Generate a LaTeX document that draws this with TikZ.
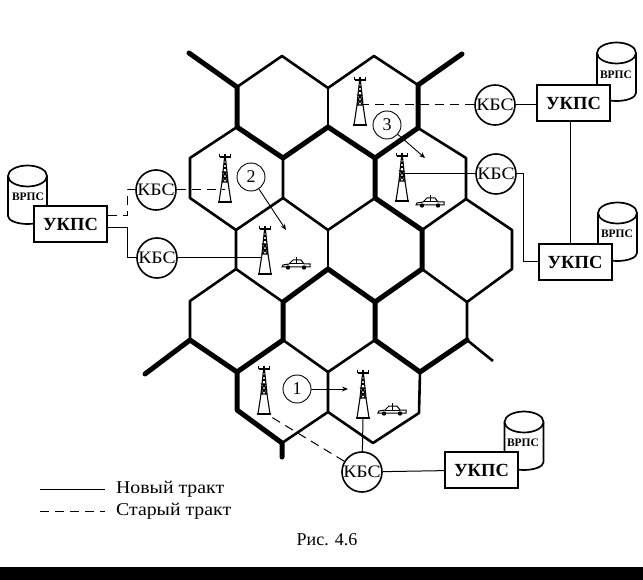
\documentclass[tikz,border=0pt]{standalone}
\usepackage{fontspec}
\setmainfont{Liberation Serif}
\newfontfamily\kbsfont[FakeStretch=1.12]{Liberation Serif}
\newfontfamily\legendfont[FakeStretch=1.1]{Liberation Serif}
\usetikzlibrary{arrows.meta}
\tikzset{
  cellwall/.style={line width=2.6pt,line join=round},
  clusterwall/.style={line width=5pt,line join=round,line cap=round},
  newpath/.style={line width=1pt},
  oldpath/.style={line width=1pt,dash pattern=on 9pt off 6pt},
  kbs/.style={circle,draw,line width=1.6pt,fill=white,minimum size=40pt,inner sep=0pt,font=\kbsfont\fontsize{17.5}{18}\selectfont},
  ukps/.style={rectangle,draw,line width=2pt,fill=white,minimum width=73pt,minimum height=36pt,inner sep=0pt,font=\bfseries\fontsize{18.5}{20}\selectfont},
  stage/.style={circle,draw,line width=0.9pt,fill=white,minimum size=28pt,inner sep=0pt,font=\fontsize{18}{18}\selectfont},
  legendtext/.style={anchor=west,inner sep=0pt,font=\legendfont\fontsize{18}{18}\selectfont},
  tower/.pic={
    \draw[line width=1.8pt] (-7,0)--(7,0);
    \draw[line width=1.1pt] (-6,0)--(-3,-20)--(-2,-30)--(-0.5,-44);
    \draw[line width=1.1pt] (6,0)--(3,-20)--(2,-30)--(0.5,-44);
    \draw[line width=1.1pt] (-3,-20)--(3,-20) (-3,-20)--(2,-26)--(-2,-30)--(2,-30) (3,-20)--(-2,-26)--(2,-30) (-3,-24)--(3,-24);
    \draw[line width=1.1pt] (-1,-34)--(1,-34) (-1,-38)--(1,-38);
    \draw[line width=1.1pt] (-5.5,-45)--(5.5,-45) (-5.5,-48)--(-5.5,-45) (0,-48)--(0,-44) (5.5,-48)--(5.5,-45);
  },
  car/.pic={
    \draw[line width=1pt,fill=white] (-14,3)--(-13,1)--(-7,0)--(-3,-4)--(5,-4)--(8,0)--(14,0)--(14,3)--cycle;
    \draw[line width=1pt] (0,-7)--(0,0) (-7,0)--(8,0);
    \fill (-8,3.5) circle (2.2pt) (8,3.5) circle (2.2pt);
  },
  vrps/.pic={
    \draw[line width=1.7pt,fill=white] (-19.5,0)--(-19.5,40) arc[start angle=180,end angle=360,x radius=19.5,y radius=-8]--(19.5,0);
    \draw[line width=1.7pt,fill=white] (0,0) ellipse[x radius=19.5,y radius=10.5];
  }
}
\begin{document}
\begin{tikzpicture}[x=1pt,y=-1pt]
\useasboundingbox (0,0) rectangle (643,580);
\fill[black] (0,567) rectangle (643,580);
% cells
\draw[cellwall] (237,87)--(282,56)--(328,88)--(374,56)--(418,85);
\draw[cellwall] (328,88)--(328,127);
\draw[cellwall] (237,127)--(190,158)--(190,198)--(236,230)--(283,198)--(283,158);
\draw[cellwall] (418,128)--(466,158)--(466,199)--(422,230);
\draw[cellwall] (375,198)--(328,230)--(283,198);
\draw[cellwall] (236,230)--(236,269)--(190,301)--(190,340);
\draw[cellwall] (328,230)--(328,269);
\draw[cellwall] (236,269)--(283,302);
\draw[cellwall] (466,199)--(512,230)--(512,269)--(467,302)--(467,340)--(493,361);
\draw[cellwall] (422,269)--(467,302);
\draw[cellwall] (283,340)--(328,372)--(375,340);
\draw[cellwall] (328,372)--(328,412)--(282,443);
\draw[cellwall] (328,412)--(373,443)--(419,413)--(420,372);
% cluster borders
\draw[clusterwall] (189,53)--(237,87)--(237,127)--(283,158)--(328,127)--(375,158)--(418,128)--(418,85)--(462,54);
\draw[clusterwall] (375,158)--(375,198)--(422,230)--(422,269)--(375,302)--(328,269)--(283,302)--(283,340)--(237,372)--(190,340)--(145,374);
\draw[clusterwall] (237,372)--(237,410)--(282,443)--(282,457);
\draw[clusterwall] (375,302)--(375,340)--(420,372)--(467,340);
% towers, cars
\foreach \p/\x/\y in {towerA/360/125,towerB/225/202,towerC/402/201,towerD/265/274,towerE/264/414,towerF/363/418}{\coordinate (\p) at (\x,\y);}
\foreach \p/\x/\y in {feedA/363/105,feedB/225/190,feedC/402/174,feedD/262/258,feedE/268/415,feedF/363/418}{\coordinate (\p) at (\x,\y);}
\foreach \p in {towerA,towerB,towerC,towerD,towerE,towerF}{\pic at (\p) {tower};}
\foreach \p in {(430,202),(296,264),(392,410)}{\pic at \p {car};}
% storage
\pic at (616.5,53) {vrps};
\pic at (617.5,213) {vrps};
\pic at (27.5,176) {vrps};
\pic at (524,422) {vrps};
\node[inner sep=0pt,font=\bfseries\fontsize{11.5}{12}\selectfont] (vrpsA) at (616,75) {ВРПС};
\node[inner sep=0pt,font=\bfseries\fontsize{11.5}{12}\selectfont] (vrpsB) at (617,234) {ВРПС};
\node[inner sep=0pt,font=\bfseries\fontsize{11.5}{12}\selectfont] (vrpsC) at (28,197) {ВРПС};
\node[inner sep=0pt,font=\bfseries\fontsize{11.5}{12}\selectfont] (vrpsD) at (523,443) {ВРПС};
% stations
\node[kbs] (kbsA) at (156,190) {КБС};
\node[kbs] (kbsB) at (157,258) {КБС};
\node[kbs] (kbsC) at (495,105) {КБС};
\node[kbs] (kbsD) at (496,174) {КБС};
\node[kbs] (kbsE) at (362,472) {КБС};
\node[ukps] (ukpsA) at (70.5,224) {УКПС};
\node[ukps] (ukpsB) at (573.5,103) {УКПС};
\node[ukps] (ukpsC) at (575,262) {УКПС};
\node[ukps] (ukpsD) at (481.5,470) {УКПС};
% paths
\draw[oldpath] (kbsC)--(feedA);
\draw[newpath] (kbsC)--(kbsC-|ukpsB.west);
\draw[newpath] (ukpsB.south-|570,0)--(ukpsC.north-|570,0);
\draw[newpath] (kbsD)--(feedC);
\draw[newpath] (kbsD.east)--++(7,0)|-(ukpsC);
\draw[oldpath] (kbsA)--(feedB);
\draw[oldpath] ([yshift=8pt]ukpsA.east)--++(19,0)|-(kbsA);
\draw[newpath] ([yshift=-4pt]ukpsA.east)--++(19,0)|-(kbsB);
\draw[newpath] (kbsB)--(feedD);
\draw[oldpath] (kbsE)--(feedE);
\draw[newpath] (kbsE)--(feedF);
\draw[newpath] (kbsE)--(ukpsD);
% handover stages
\node[stage] (stageA) at (297,389) {1};
\node[stage] (stageB) at (251,177) {2};
\node[stage] (stageC) at (387,125) {3};
\coordinate (endA) at (348,389);
\coordinate (endB) at (286,230);
\coordinate (endC) at (425,158);
\draw[-{Stealth[length=6pt,width=5pt]},line width=0.9pt] (stageA)--(endA);
\draw[-{Stealth[length=6pt,width=5pt]},line width=0.9pt] (stageB)--(endB);
\draw[-{Stealth[length=6pt,width=5pt]},line width=0.9pt] (stageC)--(endC);
% legend
\coordinate (newA) at (40,489); \coordinate (newB) at (105,489);
\coordinate (oldA) at (40,511); \coordinate (oldB) at (105,511);
\draw[newpath] (newA)--(newB);
\draw[oldpath] (oldA)--(oldB);
\node[legendtext] (newtext) at (116,489) {Новый тракт};
\node[legendtext] (oldtext) at (116,511) {Старый тракт};
\node[inner sep=0pt,font=\fontsize{18}{18}\selectfont] (caption) at (327,540) {Рис. 4.6};
\end{tikzpicture}
\end{document}
